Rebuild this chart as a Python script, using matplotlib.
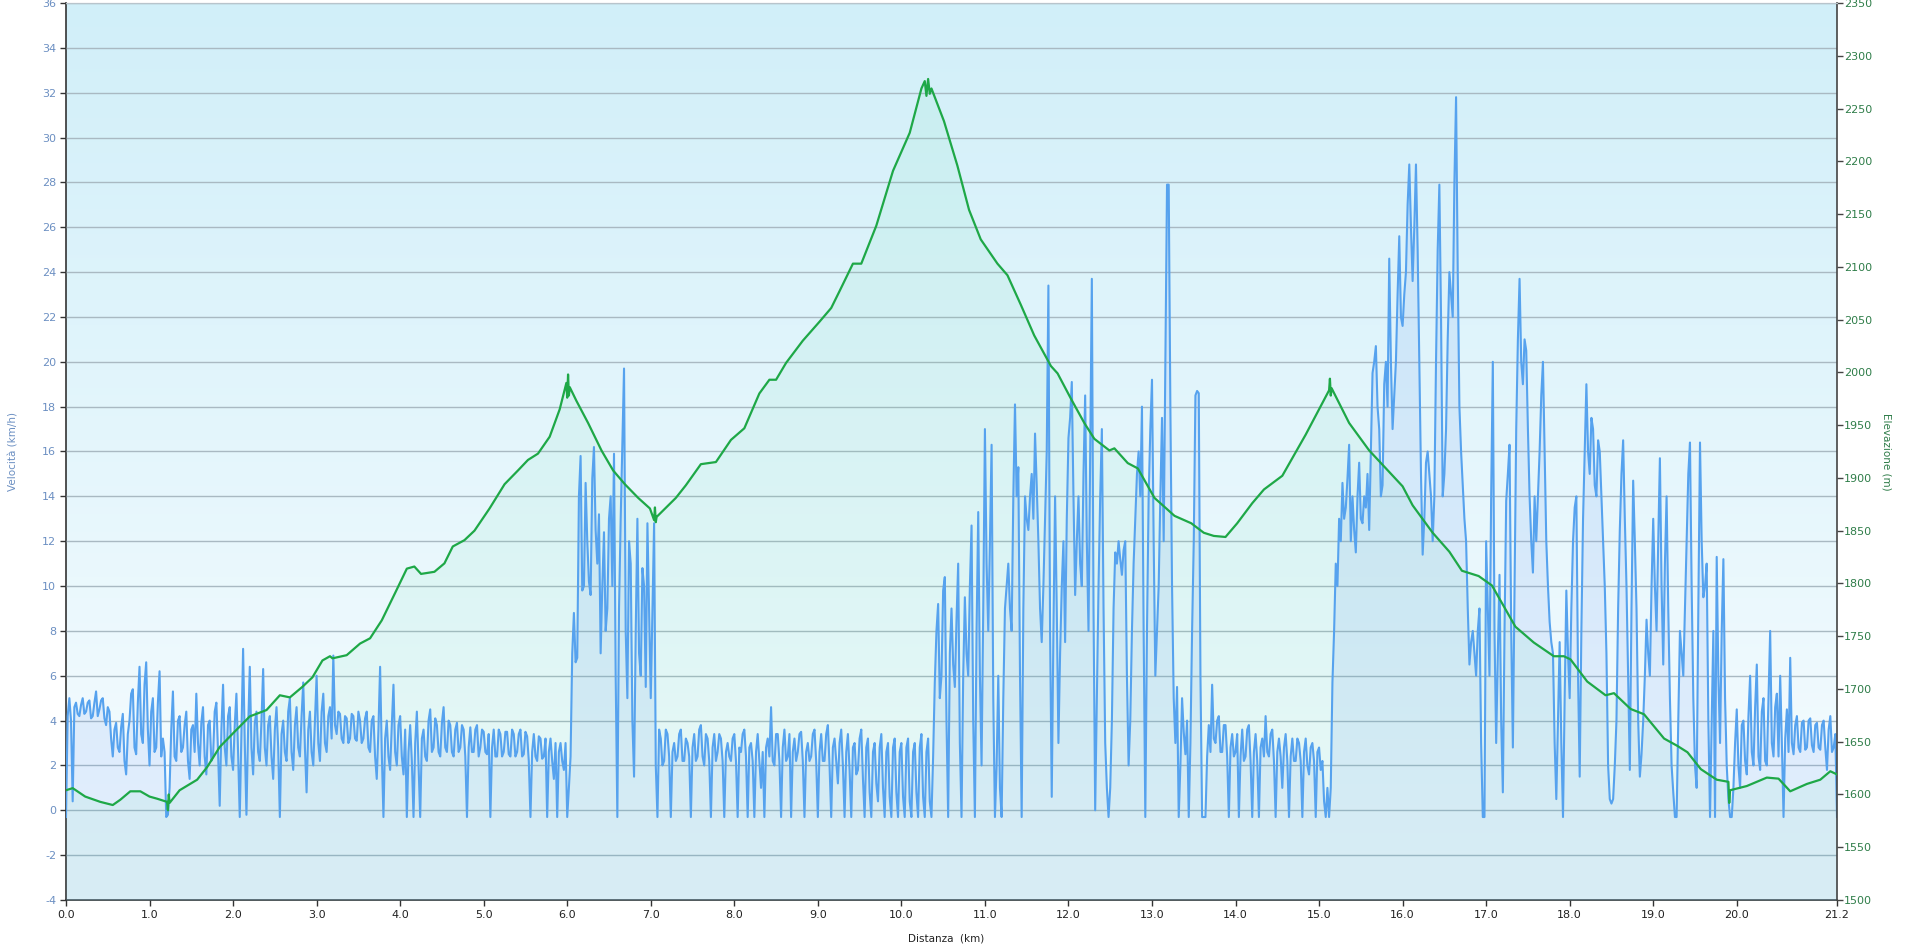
import numpy as np
import matplotlib
matplotlib.use("Agg")
import matplotlib.pyplot as plt
from matplotlib.colors import LinearSegmentedColormap

plt.rcParams["axes.unicode_minus"] = False

# elevation profile (km, m)
elev_km = [0.00, 0.08, 0.23, 0.41, 0.56, 0.65, 0.77, 0.89, 1.00, 1.09, 1.21, 1.22, 1.23, 1.24,
           1.36, 1.57, 1.69,
           1.84, 2.00, 2.20, 2.40, 2.56, 2.68, 2.83, 2.95, 3.07, 3.16, 3.19, 3.36, 3.52, 3.64,
           3.78, 3.94, 4.08, 4.17, 4.25, 4.41, 4.53, 4.63, 4.77, 4.89, 5.07, 5.25, 5.41, 5.53,
           5.65, 5.79, 5.91, 5.99, 6.00, 6.01, 6.02, 6.03, 6.11, 6.25, 6.41, 6.55, 6.69, 6.85,
           6.99, 7.04, 7.05, 7.06, 7.07, 7.30, 7.42,
           7.60, 7.78, 7.96, 8.12, 8.30, 8.42, 8.50, 8.62, 8.82, 9.02, 9.16, 9.26, 9.42, 9.52,
           9.70, 9.90, 10.10, 10.24, 10.28, 10.30, 10.32, 10.34, 10.36, 10.51, 10.67, 10.81,
           10.95, 11.15, 11.27, 11.43,
           11.59, 11.79, 11.87, 12.03, 12.19, 12.31, 12.49, 12.55, 12.71, 12.83, 13.03, 13.27,
           13.47, 13.62, 13.74, 13.88, 14.02, 14.20, 14.34, 14.56, 14.84, 15.12, 15.13, 15.14,
           15.15, 15.36,
           15.60, 15.80, 16.00, 16.12, 16.36, 16.56, 16.71, 16.91, 17.07, 17.35, 17.57, 17.81,
           17.93, 18.01, 18.21, 18.43, 18.53, 18.73, 18.89, 19.13, 19.29, 19.41, 19.57, 19.76,
           19.90, 19.91, 19.92, 20.12, 20.36, 20.50, 20.64, 20.84, 21.00, 21.12, 21.20]
elev_m = [1604, 1606, 1598, 1593, 1590, 1595, 1603, 1603, 1598, 1596, 1593, 1585, 1600, 1592,
          1604, 1614, 1626,
          1645, 1658, 1674, 1680, 1694, 1692, 1702, 1711, 1727, 1731, 1729, 1732, 1743, 1748,
          1765, 1791, 1814, 1816, 1809, 1811, 1819, 1835, 1841, 1850, 1871, 1894, 1907, 1917,
          1923, 1939, 1965, 1990, 1976, 1998, 1978, 1986, 1973, 1952, 1926, 1907, 1894, 1881,
          1871, 1860, 1872, 1858, 1863, 1881, 1893,
          1913, 1915, 1936, 1947, 1980, 1993, 1993, 2009, 2030, 2048, 2061, 2077, 2103, 2103,
          2139, 2191, 2227, 2269, 2276, 2262, 2278, 2264, 2269, 2238, 2196, 2154,
          2126, 2103, 2092, 2064,
          2035, 2006, 1999, 1975, 1952, 1937, 1926, 1928, 1914, 1909, 1881, 1864,
          1857, 1848, 1845, 1844, 1857, 1876, 1889, 1902, 1941, 1983, 1994, 1978,
          1985, 1952,
          1926, 1909, 1892, 1874, 1848, 1830, 1812, 1807, 1798, 1759, 1744, 1731,
          1731, 1728, 1707, 1694, 1696, 1681, 1676, 1653, 1646, 1640, 1624, 1614,
          1612, 1592, 1604, 1608, 1616, 1615, 1603, 1610, 1614, 1622, 1619]

# speed (km/h) sampled every 0.02 km, one block of 50 values per km
speed = [
    # km 0
    -0.3, 4.2, 5.0, 4.0, 0.4, 4.6, 4.8, 4.3, 4.2, 4.7,
    5.0, 4.3, 4.4, 4.8, 4.9, 4.1, 4.2, 4.8, 5.3, 4.2,
    4.5, 4.9, 5.0, 4.1, 3.8, 4.6, 4.4, 3.2, 2.4, 3.6,
    3.9, 2.8, 2.6, 3.7, 4.3, 2.2, 1.6, 3.4, 4.0, 5.2,
    5.4, 2.8, 2.5, 4.8, 6.4, 3.4, 3.0, 5.6, 6.6, 3.6,
    # km 1
    2.0, 4.4, 5.0, 2.6, 2.8, 4.8, 6.2, 2.4, 3.2, 2.6,
    -0.3, -0.2, 1.0, 3.6, 5.3, 2.4, 2.2, 4.0, 4.2, 2.6,
    2.8, 3.8, 4.4, 2.2, 1.4, 3.6, 3.8, 2.6, 5.2, 3.0,
    2.0, 3.9, 4.6, 2.4, 1.6, 3.8, 4.0, 2.2, 2.4, 4.4,
    4.8, 2.6, 0.2, 3.6, 5.6, 2.8, 2.0, 4.2, 4.6, 2.4,
    # km 2
    1.8, 3.8, 5.2, 2.6, -0.3, 3.4, 7.2, 3.0, -0.2, 3.6,
    6.4, 2.8, 1.6, 3.9, 4.4, 2.6, 2.2, 4.0, 6.3, 2.8,
    2.0, 3.8, 4.2, 2.4, 1.4, 3.6, 4.6, 2.8, -0.3, 3.4,
    4.0, 2.6, 2.2, 4.4, 5.0, 2.6, 1.8, 3.8, 4.6, 2.8,
    2.4, 4.2, 5.7, 2.8, 0.8, 3.6, 4.4, 2.6, 2.0, 4.0,
    # km 3
    6.0, 3.0, 2.2, 4.4, 5.2, 3.0, 2.6, 4.2, 4.6, 3.2,
    6.9, 3.8, 3.4, 4.4, 4.3, 3.2, 3.0, 4.2, 4.1, 3.0,
    3.2, 4.3, 4.2, 3.2, 3.1, 4.4, 4.0, 3.0, 3.2, 4.1,
    4.4, 2.8, 2.6, 4.0, 4.2, 2.4, 1.4, 3.6, 6.4, 2.6,
    -0.3, 3.2, 4.0, 2.4, 1.8, 3.8, 5.6, 2.6, 2.0, 3.8,
    # km 4
    4.2, 2.4, 1.6, 3.6, -0.3, 2.6, 3.8, 2.2, -0.3, 3.0,
    4.4, 2.0, -0.3, 3.2, 3.6, 2.4, 2.2, 4.0, 4.5, 2.6,
    2.8, 4.1, 3.8, 2.6, 2.4, 3.9, 4.6, 2.8, 2.6, 4.0,
    3.8, 2.6, 2.4, 3.6, 3.9, 2.6, 2.8, 3.8, 3.6, 2.4,
    -0.3, 2.8, 3.7, 2.6, 2.6, 3.6, 3.8, 2.4, 2.8, 3.6,
    # km 5
    3.5, 2.6, 2.5, 3.4, -0.3, 2.8, 3.6, 2.4, 2.4, 3.6,
    3.4, 2.4, 2.6, 3.5, 3.5, 2.5, 2.4, 3.6, 3.4, 2.4,
    2.6, 3.4, 3.6, 2.4, 2.5, 3.5, 3.3, 2.2, -0.3, 2.6,
    3.4, 2.4, 2.2, 3.3, 3.2, 2.3, 2.4, 3.2, -0.3, 2.6,
    3.2, 2.2, 1.4, 3.0, -0.3, 2.6, 3.0, 2.2, 1.8, 3.0,
    # km 6
    -0.3, 1.0, 2.4, 7.0, 8.8, 6.6, 6.8, 14.0, 15.8, 9.8,
    10.0, 14.6, 12.0, 10.2, 9.6, 14.8, 16.2, 12.5, 11.0, 13.2,
    7.0, 10.0, 12.4, 8.0, 9.0, 13.0, 14.0, 10.0, 15.9, 6.0,
    -0.3, 9.0, 13.0, 16.4, 19.7, 8.0, 5.0, 12.0, 11.0, 4.0,
    1.5, 8.0, 13.0, 7.0, 6.0, 10.8, 10.0, 5.5, 12.8, 9.0,
    # km 7
    5.0, 9.0, 12.8, 2.0, -0.3, 3.6, 3.2, 2.0, 2.2, 3.6,
    3.4, 2.4, -0.3, 2.6, 3.0, 2.2, 2.4, 3.4, 3.6, 2.2,
    2.2, 3.2, 3.0, 2.4, -0.3, 2.8, 3.4, 2.2, 2.4, 3.6,
    3.8, 2.4, 2.0, 3.4, 3.2, 2.2, -0.3, 2.8, 3.4, 2.2,
    2.6, 3.4, 3.2, 2.2, -0.3, 2.6, 3.0, 2.4, 2.2, 3.2,
    # km 8
    3.4, 2.2, -0.3, 2.8, 2.6, 3.4, 3.6, 2.4, -0.3, 2.8,
    3.0, 2.2, -0.3, 2.6, 3.4, 2.2, 1.0, 2.6, -0.3, 2.8,
    3.2, 2.4, 4.6, 2.2, 2.0, 3.4, 3.4, 2.2, -0.3, 2.8,
    3.6, 2.2, 2.4, 3.4, -0.3, 2.6, 3.2, 2.2, 2.6, 3.4,
    3.5, 2.2, -0.3, 2.6, 3.0, 2.2, 2.4, 3.4, 3.6, 2.2,
    # km 9
    -0.3, 2.6, 3.4, 2.2, 2.2, 3.4, 3.8, 2.0, -0.3, 2.8,
    3.2, 2.2, 1.2, 3.0, 3.6, 2.0, -0.3, 2.6, 3.4, 1.8,
    -0.3, 2.8, 3.0, 1.6, 1.8, 3.2, 3.6, 1.4, -0.3, 2.8,
    3.2, 0.8, -0.3, 2.6, 3.0, 1.2, 0.4, 2.8, 3.4, 1.0,
    -0.3, 2.6, 3.0, 0.6, -0.3, 2.8, 3.2, 0.8, -0.3, 2.6,
    # km 10
    3.0, 0.6, -0.3, 2.8, 3.2, 0.4, -0.3, 2.6, 3.0, 0.8,
    -0.3, 2.8, 3.4, 0.6, -0.3, 2.6, 3.2, 0.4, -0.3, 2.4,
    5.7, 8.0, 9.2, 5.0, 6.0, 9.8, 10.4, 4.0, -0.3, 7.0,
    9.0, 6.5, 5.5, 8.5, 11.0, 3.0, -0.3, 6.0, 9.5, 7.0,
    6.0, 10.0, 12.7, 4.0, -0.3, 8.0, 13.3, 6.0, 2.0, 9.0,
    # km 11
    17.0, 11.0, 8.0, 12.0, 16.3, 5.0, -0.3, 2.0, 6.0, 1.0,
    -0.3, 5.0, 9.0, 10.0, 11.0, 9.0, 8.0, 14.0, 18.1, 14.0,
    15.3, 6.0, -0.3, 9.0, 14.0, 13.0, 12.5, 14.0, 15.0, 13.0,
    16.8, 14.5, 12.0, 9.0, 7.5, 10.0, 13.0, 16.0, 23.4, 8.0,
    0.6, 8.0, 14.0, 9.0, 3.0, 7.0, 10.0, 12.0, 7.5, 13.0,
    # km 12
    16.6, 17.5, 19.1, 14.0, 9.6, 12.0, 14.0, 11.0, 10.0, 15.0,
    18.5, 12.0, 8.0, 16.0, 23.7, 9.0, 0.0, 5.0, 10.0, 14.0,
    17.0, 9.0, 3.0, 1.0, -0.3, 1.0, 4.0, 9.0, 11.5, 11.0,
    12.0, 11.2, 10.5, 11.6, 12.0, 6.0, 2.0, 4.0, 8.0, 11.0,
    13.0, 15.0, 16.0, 14.0, 18.0, 8.0, -0.3, 8.0, 14.0, 17.0,
    # km 13
    19.2, 12.0, 6.0, 8.0, 10.0, 14.0, 17.5, 12.0, 20.0, 27.9,
    27.9, 18.0, 10.0, 5.0, 3.0, 5.5, -0.3, 2.0, 5.0, 3.5,
    2.5, 4.0, -0.3, 3.0, 8.0, 12.0, 18.5, 18.7, 18.6, 6.0,
    -0.3, -0.3, -0.3, 2.4, 3.8, 2.6, 5.6, 3.2, 3.0, 4.0,
    4.2, 2.6, 2.6, 3.8, 3.8, 2.4, -0.3, 2.8, 3.4, 2.4,
    # km 14
    2.6, 3.4, -0.3, 2.4, 3.6, 2.2, 2.4, 3.6, 3.8, 2.2,
    -0.3, 2.6, 3.4, 2.2, -0.3, 2.8, 3.2, 2.4, 4.2, 2.6,
    2.4, 3.4, 3.6, 2.2, -0.3, 2.6, 3.2, 2.4, 1.0, 2.8,
    3.4, 2.2, -0.3, 2.4, 3.2, 2.2, 2.2, 3.2, 3.0, 2.2,
    -0.3, 2.6, 3.2, 2.0, 1.6, 2.8, 3.0, 2.2, -0.3, 2.6,
    # km 15
    2.8, 1.8, 2.2, 0.4, -0.3, 1.0, -0.3, 1.0, 5.7, 8.0,
    11.0, 10.0, 13.0, 12.0, 14.6, 13.0, 13.5, 14.8, 16.3, 12.0,
    14.0, 12.5, 11.5, 14.0, 15.5, 13.0, 12.8, 14.0, 13.5, 15.0,
    12.5, 16.0, 19.5, 20.0, 20.7, 18.0, 17.0, 14.0, 14.5, 19.0,
    20.0, 18.0, 24.6, 20.0, 17.0, 18.5, 20.0, 23.0, 25.6, 22.0,
    # km 16
    21.6, 23.0, 24.0, 27.0, 28.8, 26.0, 23.6, 26.0, 28.8, 25.0,
    20.0, 15.0, 11.4, 13.0, 15.5, 16.0, 15.0, 14.0, 12.0, 14.0,
    20.0, 25.0, 27.9, 22.0, 14.0, 15.0, 17.0, 21.0, 24.0, 23.0,
    22.0, 28.0, 31.8, 24.0, 18.0, 16.0, 14.5, 13.0, 12.0, 9.0,
    6.5, 7.5, 8.0, 7.0, 6.0, 8.0, 9.0, 3.0, -0.3, -0.3,
    # km 17
    12.0, 9.0, 6.0, 14.0, 20.0, 8.0, 3.0, 7.0, 10.5, 4.0,
    0.8, 8.0, 13.8, 15.0, 16.3, 8.0, 2.8, 10.0, 17.0, 21.0,
    23.7, 20.0, 19.0, 21.0, 20.5, 17.0, 14.0, 12.0, 10.6, 14.0,
    12.0, 14.0, 16.0, 18.5, 20.0, 16.0, 12.0, 10.0, 8.4, 7.5,
    7.0, 3.0, 0.5, 4.0, 7.5, 3.0, -0.3, 5.0, 9.8, 7.0,
    # km 18
    5.0, 9.0, 12.0, 13.5, 14.0, 6.0, 1.5, 8.0, 13.0, 16.0,
    19.0, 16.0, 15.0, 17.5, 17.0, 14.5, 14.0, 16.5, 16.0, 14.0,
    12.0, 10.0, 7.0, 2.0, 0.5, 0.3, 0.5, 2.0, 4.0, 9.0,
    12.5, 15.0, 16.5, 13.0, 10.0, 6.0, 1.8, 9.0, 14.7, 12.0,
    9.0, 4.0, 1.5, 2.5, 4.0, 6.0, 8.5, 7.0, 6.0, 10.0,
    # km 19
    13.0, 10.0, 8.0, 12.0, 15.7, 10.0, 6.5, 11.0, 14.0, 9.0,
    5.0, 2.0, 0.8, -0.3, -0.3, 4.0, 8.0, 7.0, 6.0, 9.0,
    12.0, 15.0, 16.4, 10.0, 5.0, 2.0, 1.0, 9.0, 16.4, 12.0,
    9.5, 10.0, 11.0, 4.0, -0.3, 4.0, 8.0, -0.3, 11.3, 6.0,
    3.0, 8.0, 11.2, 5.0, 2.0, 0.5, -0.3, -0.3, 1.0, 3.0,
    # km 20
    4.5, 2.0, 1.0, 3.8, 4.0, 2.2, 1.6, 4.2, 6.0, 2.6,
    2.0, 4.6, 6.5, 2.4, 1.8, 4.4, 5.0, 2.2, 2.0, 5.0,
    8.0, 3.0, 2.4, 4.6, 5.2, 2.4, 6.0, 3.0, -0.3, 3.2,
    4.5, 2.6, 6.8, 3.0, 2.5, 3.8, 4.2, 2.8, 2.6, 3.9,
    4.0, 2.7, 2.8, 4.0, 4.1, 2.9, 2.6, 3.8, 3.9, 2.8,
    # km 21.0 - 21.2
    2.7, 3.8, 4.0, 2.8, 1.8, 3.6, 4.2, 2.6, 2.8, 3.4, -0.3,
]
assert len(speed) == 1061, len(speed)
assert len(elev_km) == len(elev_m), (len(elev_km), len(elev_m))
speed_km = np.linspace(0.0, 21.2, len(speed))

x_ticks = list(range(21)) + [21.2]
x_labels = [f"{t:.1f}" for t in x_ticks]

SPEED_COLOR = "#56a2ee"
ELEV_COLOR = "#1ea847"
LEFT_TXT = "#6b8fc2"
RIGHT_TXT = "#2f7d49"


def main() -> None:
    fig = plt.figure(figsize=(19.06, 9.48), dpi=100, facecolor="white")
    ax = fig.add_axes([66 / 1906, 48 / 948, 1771 / 1906, 897 / 948])
    ax2 = ax.twinx()

    # background gradient
    grad = LinearSegmentedColormap.from_list("bg", ["#f8fdff", "#d1eff9"])
    ax.imshow(np.linspace(0, 1, 256).reshape(-1, 1), cmap=grad, origin="lower",
              extent=[0, 1, 0, 1], transform=ax.transAxes, aspect="auto", zorder=0)

    ax.set_xlim(0, 21.2)
    ax.set_ylim(-4, 36)
    ax2.set_ylim(1500, 2350)
    ax.set_yticks(np.arange(-4, 37, 2))
    ax2.set_yticks(np.arange(1500, 2351, 50))
    ax.set_xticks(x_ticks)
    ax.set_xticklabels(x_labels)
    ax.grid(axis="y", color="#a9b9c2", linewidth=1.0, zorder=1)
    ax.set_axisbelow(False)

    # fills and lines (drawn on the twin so the elevation line ends on top)
    ax2.fill_between(speed_km, speed, -4, transform=ax.transData,
                     color="#5a8cf0", alpha=0.12, linewidth=0, zorder=1)
    ax2.fill_between(elev_km, elev_m, 1500, color="#3dd68c", alpha=0.07,
                     linewidth=0, zorder=1)
    ax2.plot(speed_km, speed, transform=ax.transData, color=SPEED_COLOR,
             linewidth=1.5, zorder=2)
    ax2.plot(elev_km, elev_m, color=ELEV_COLOR, linewidth=1.6, zorder=3)
    ax2.set_xlim(0, 21.2)

    for spine in ("left", "bottom"):
        ax.spines[spine].set_color("#333333")
        ax.spines[spine].set_linewidth(1.2)
    ax.spines["top"].set_color("#b8c4cc")
    ax.spines["right"].set_visible(False)
    ax2.spines["right"].set_color("#444444")
    ax2.spines["right"].set_linewidth(1.2)
    ax2.spines["top"].set_color("#b8c4cc")
    ax2.spines["left"].set_visible(False)
    ax2.spines["bottom"].set_visible(False)

    ax.tick_params(axis="y", colors="#333333", labelcolor=LEFT_TXT, labelsize=8,
                   length=4, width=1, pad=3)
    ax.tick_params(axis="x", colors="#333333", labelcolor="#222222", labelsize=8,
                   length=4, width=1, pad=3)
    ax2.tick_params(axis="y", colors="#444444", labelcolor=RIGHT_TXT, labelsize=8,
                    length=4, width=1, pad=1)

    ax.set_ylabel("Velocità (km/h)", color=LEFT_TXT, fontsize=7.5)
    ax.yaxis.set_label_coords(-0.027, 0.5)
    ax2.set_ylabel("Elevazione (m)", color=RIGHT_TXT, fontsize=7.5, rotation=270)
    ax2.yaxis.set_label_coords(1.031, 0.5)
    ax.set_xlabel("Distanza  (km)", color="#222222", fontsize=7.5)
    ax.xaxis.set_label_coords(0.497, -0.037)

    fig.savefig("out.png", dpi=100, facecolor="white")


if __name__ == "__main__":
    main()
